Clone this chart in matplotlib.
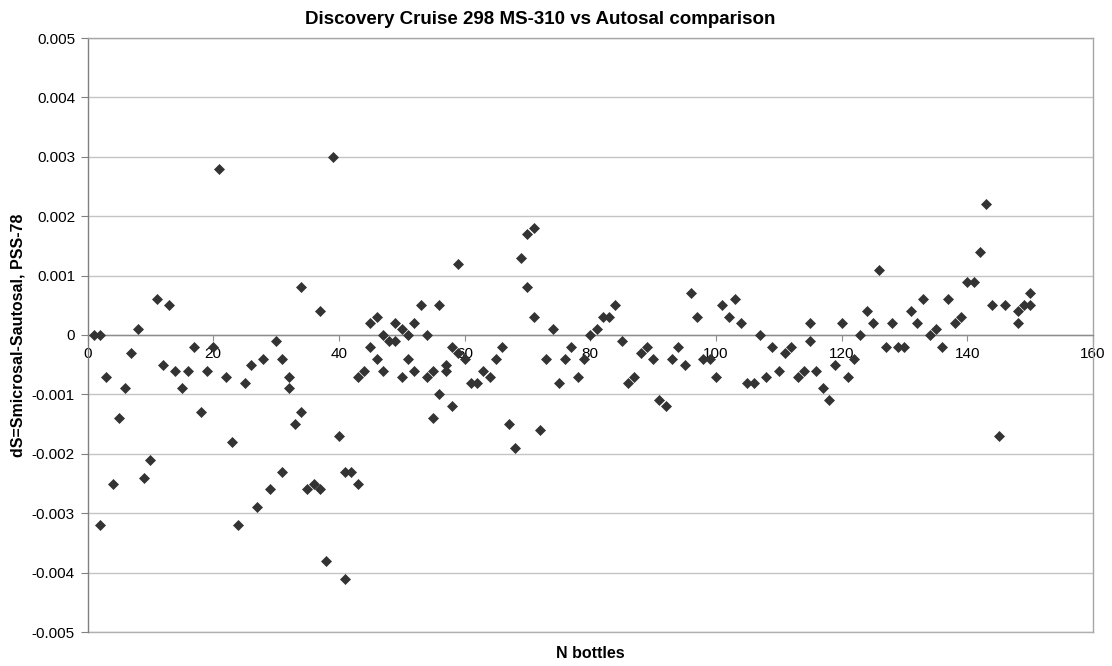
import matplotlib
matplotlib.use("Agg")
import matplotlib.pyplot as plt

plt.rcParams['font.family'] = ['Liberation Sans', 'DejaVu Sans']

# bottle number and salinity difference (Smicrosal - Sautosal)
bottle = [1, 2, 2, 3, 4, 5, 6, 7, 8, 9,
          10, 11, 12, 13, 14, 15, 16, 17, 18, 19,
          20, 21, 22, 23, 24, 25, 26, 27, 28, 29,
          30, 31, 31, 32, 32, 33, 34, 34, 35, 36,
          37, 37, 38, 39, 40, 41, 41, 42, 43, 43,
          44, 45, 45, 46, 46, 47, 47, 48, 49, 49,
          50, 50, 51, 51, 52, 52, 53, 54, 54, 55,
          55, 56, 56, 57, 57, 58, 58, 59, 59, 60,
          61, 62, 63, 64, 65, 66, 67, 68, 69, 70,
          70, 71, 71, 72, 73, 74, 75, 76, 77, 78,
          79, 80, 81, 82, 83, 84, 85, 86, 87, 88,
          89, 90, 91, 92, 93, 94, 95, 96, 97, 98,
          99, 100, 101, 102, 103, 104, 105, 106, 107, 108,
          109, 110, 111, 112, 113, 114, 115, 115, 116, 117,
          118, 119, 120, 121, 122, 123, 124, 125, 126, 127,
          128, 129, 130, 131, 132, 133, 134, 135, 136, 137,
          138, 139, 140, 141, 142, 143, 144, 145, 146, 148,
          148, 149, 150, 150]
ds = [0.0, 0.0, -0.0032, -0.0007, -0.0025, -0.0014, -0.0009, -0.0003, 0.0001, -0.0024,
      -0.0021, 0.0006, -0.0005, 0.0005, -0.0006, -0.0009, -0.0006, -0.0002, -0.0013, -0.0006,
      -0.0002, 0.0028, -0.0007, -0.0018, -0.0032, -0.0008, -0.0005, -0.0029, -0.0004, -0.0026,
      -0.0001, -0.0004, -0.0023, -0.0007, -0.0009, -0.0015, -0.0013, 0.0008, -0.0026, -0.0025,
      -0.0026, 0.0004, -0.0038, 0.0030, -0.0017, -0.0023, -0.0041, -0.0023, -0.0025, -0.0007,
      -0.0006, 0.0002, -0.0002, 0.0003, -0.0004, 0.0, -0.0006, -0.0001, 0.0002, -0.0001,
      0.0001, -0.0007, 0.0, -0.0004, 0.0002, -0.0006, 0.0005, 0.0, -0.0007, -0.0006,
      -0.0014, 0.0005, -0.0010, -0.0005, -0.0006, -0.0002, -0.0012, 0.0012, -0.0003, -0.0004,
      -0.0008, -0.0008, -0.0006, -0.0007, -0.0004, -0.0002, -0.0015, -0.0019, 0.0013, 0.0017,
      0.0008, 0.0018, 0.0003, -0.0016, -0.0004, 0.0001, -0.0008, -0.0004, -0.0002, -0.0007,
      -0.0004, 0.0, 0.0001, 0.0003, 0.0003, 0.0005, -0.0001, -0.0008, -0.0007, -0.0003,
      -0.0002, -0.0004, -0.0011, -0.0012, -0.0004, -0.0002, -0.0005, 0.0007, 0.0003, -0.0004,
      -0.0004, -0.0007, 0.0005, 0.0003, 0.0006, 0.0002, -0.0008, -0.0008, 0.0, -0.0007,
      -0.0002, -0.0006, -0.0003, -0.0002, -0.0007, -0.0006, 0.0002, -0.0001, -0.0006, -0.0009,
      -0.0011, -0.0005, 0.0002, -0.0007, -0.0004, 0.0, 0.0004, 0.0002, 0.0011, -0.0002,
      0.0002, -0.0002, -0.0002, 0.0004, 0.0002, 0.0006, 0.0, 0.0001, -0.0002, 0.0006,
      0.0002, 0.0003, 0.0009, 0.0009, 0.0014, 0.0022, 0.0005, -0.0017, 0.0005, 0.0002,
      0.0004, 0.0005, 0.0005, 0.0007]

x_ticks = [0, 20, 40, 60, 80, 100, 120, 140, 160]
y_ticks = [-0.005, -0.004, -0.003, -0.002, -0.001, 0, 0.001, 0.002, 0.003, 0.004, 0.005]
y_tick_labels = ['-0.005', '-0.004', '-0.003', '-0.002', '-0.001', '0',
                 '0.001', '0.002', '0.003', '0.004', '0.005']

W, H = 1112, 666
fig = plt.figure(figsize=(W / 100, H / 100), dpi=100)
ax = fig.add_axes([87.5 / W, 34 / H, (1093 - 87.5) / W, (632 - 38) / H])

ax.plot(bottle, ds, linestyle='none', marker='D', ms=4.9, mew=0.5,
        color='#333333', zorder=3, clip_on=False)

ax.set_xlim(0, 160)
ax.set_ylim(-0.005, 0.005)
ax.set_xticks(x_ticks)
ax.set_yticks(y_ticks)
ax.set_yticklabels(y_tick_labels)

ax.yaxis.grid(True, color='#c4c4c4', lw=1.0)
ax.set_axisbelow(True)
# bottom edge of the plot area
ax.axhline(y_ticks[0], color='#b0b0b0', lw=1.0, clip_on=False, zorder=0.6)

# Excel style: category axis crosses at zero
ax.spines['bottom'].set_position(('data', 0))
ax.spines['bottom'].set_color('#8c8c8c')
ax.spines['left'].set_color('#808080')
ax.spines['top'].set_color('#a6a6a6')
ax.spines['right'].set_color('#a6a6a6')
for s in ax.spines.values():
    s.set_linewidth(1.0)

ax.tick_params(axis='x', direction='out', length=4, pad=5, color='#8c8c8c', labelsize=11)
ax.tick_params(axis='y', direction='out', length=5, pad=4, color='#808080', labelsize=11)

fig.text(540 / W, 1 - 20 / H, "Discovery Cruise 298 MS-310 vs Autosal comparison",
         ha='center', va='center', fontsize=13.5, fontweight='bold')
fig.text(590 / W, 1 - 654 / H, "N bottles", ha='center', va='center',
         fontsize=11.5, fontweight='bold')
fig.text(18 / W, 1 - 335 / H, "dS=Smicrosal-Sautosal, PSS-78", rotation=90,
         ha='center', va='center', fontsize=11.5, fontweight='bold')

plt.savefig('out.png', dpi=100)
